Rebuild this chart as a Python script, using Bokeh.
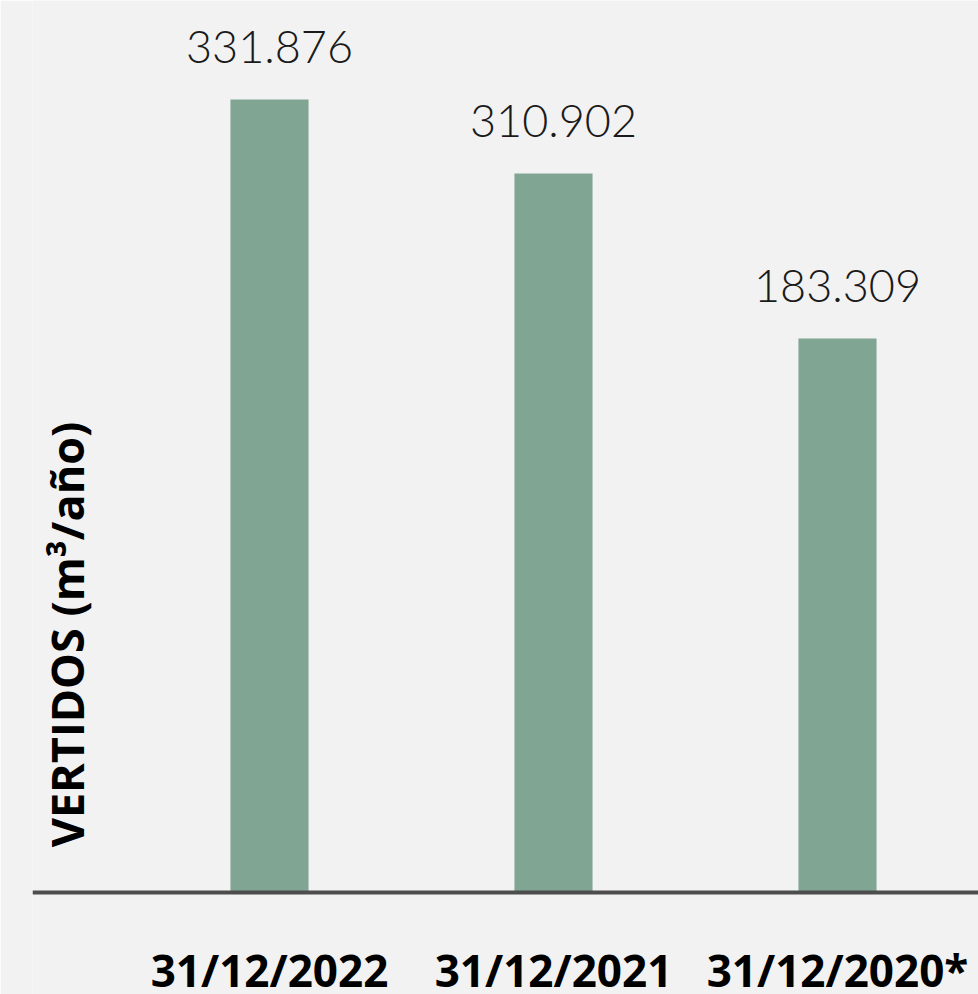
import math
from bokeh.plotting import figure
from bokeh.models import ColumnDataSource, LabelSet, Label, Range1d, Span
from bokeh.core.properties import value
from bokeh.embed import file_html
from bokeh.resources import INLINE

# ---- data ----
categorias = ["31/12/2022", "31/12/2021", "31/12/2020*"]
vertidos = [331876, 310902, 183309]          # values printed above the bars (m3/año)
# bar heights as drawn in the reference (the original graphic is not to scale)
altura_barras = [331876, 300900, 231850]
eje_y_titulo = "VERTIDOS (m³/año)"

pos = list(range(len(categorias)))
etiquetas = [f"{v:,}".replace(",", ".") for v in vertidos]

src = ColumnDataSource(dict(x=pos, top=altura_barras, cat=categorias, lbl=etiquetas,
                            zero=[0] * len(pos)))

BG = "#f2f2f2"

p = figure(width=978, height=994, output_backend="svg", toolbar_location=None,
           x_range=Range1d(-0.8345, 2.4965), y_range=Range1d(-42690, 373320),
           x_axis_location=None, y_axis_location=None,
           min_border_left=32, min_border_right=0, min_border_top=0, min_border_bottom=0)
p.background_fill_color = BG
p.border_fill_color = BG
p.outline_line_color = None
p.grid.visible = False

p.vbar(x="x", top="top", bottom=0, width=0.275, source=src,
       fill_color="#80a593", line_color=None)

# baseline (category axis line)
p.add_layout(Span(location=0, dimension="width", line_color="#4d4d4d", line_width=4))

# value labels above bars
p.add_layout(LabelSet(x="x", y="top", text="lbl", source=src, y_offset=37,
                      text_align="center", text_baseline="alphabetic",
                      text_font=value("Lato Light, Lato"), text_font_size="45px",
                      text_color="#1a1a1a"))

# category labels below the baseline
p.add_layout(LabelSet(x="x", y="zero", text="cat", source=src, y_offset=-95,
                      text_align="center", text_baseline="alphabetic",
                      text_font=value("Open Sans"), text_font_style="bold",
                      text_font_size="44px", text_color="#000000"))

# vertical axis title
p.add_layout(Label(x=34, y=360, x_units="screen", y_units="screen", text=eje_y_titulo,
                   angle=math.pi / 2, text_align="center", text_baseline="alphabetic",
                   text_font="Open Sans", text_font_style="bold", text_font_size="45px",
                   text_color="#000000"))

open("out.html", "w").write(file_html(p, INLINE))
